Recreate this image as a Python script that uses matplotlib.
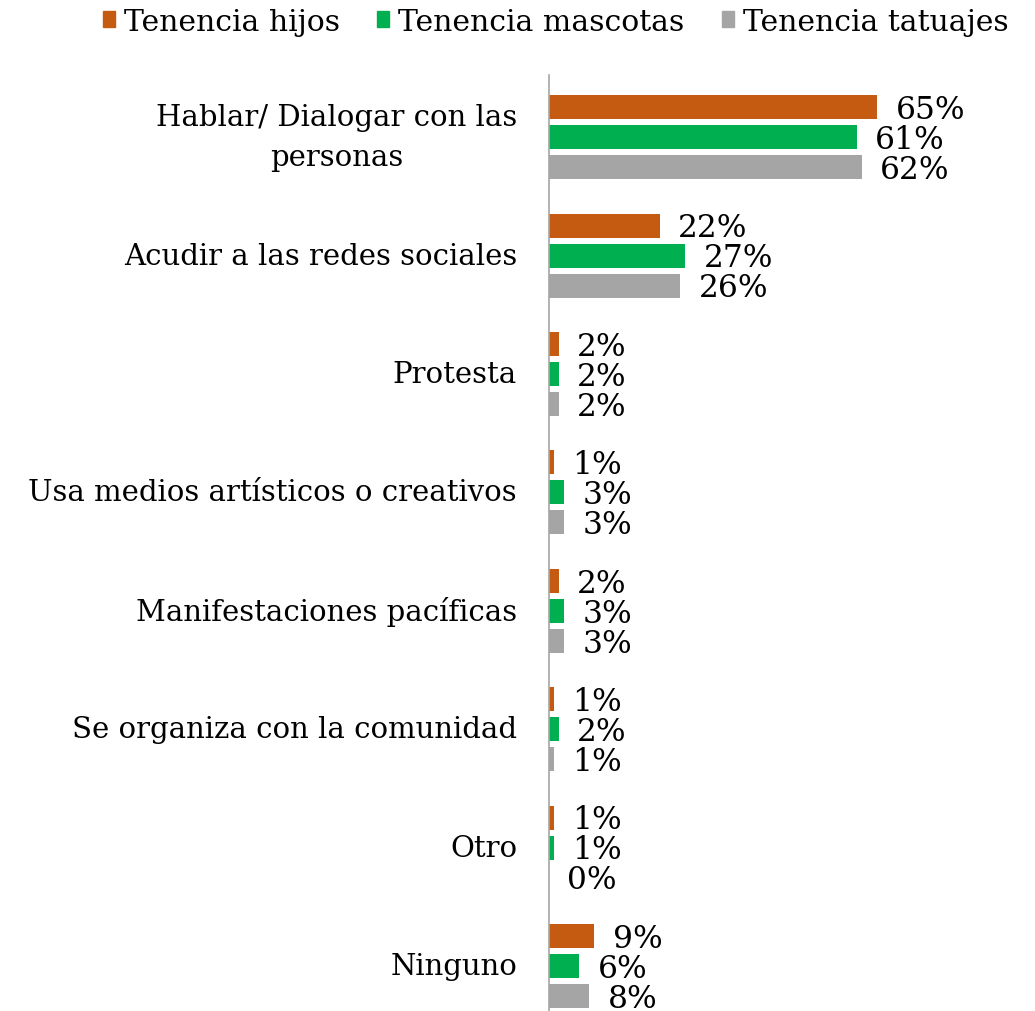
import matplotlib
matplotlib.use("Agg")
import matplotlib.pyplot as plt
from matplotlib.patches import Patch

plt.rcParams['font.family'] = ['DejaVu Serif']

# datos (porcentajes)
categorias = ["Hablar/ Dialogar con las\npersonas", "Acudir a las redes sociales", "Protesta",
              "Usa medios artísticos o creativos", "Manifestaciones pacíficas",
              "Se organiza con la comunidad", "Otro", "Ninguno"]
series = ["Tenencia hijos", "Tenencia mascotas", "Tenencia tatuajes"]
hijos = [65, 22, 2, 1, 2, 1, 1, 9]
mascotas = [61, 27, 2, 3, 3, 2, 1, 6]
tatuajes = [62, 26, 2, 3, 3, 1, 0, 8]
colores = ["#C55A11", "#00B050", "#A5A5A5"]

fig = plt.figure(figsize=(10.35, 10.12), dpi=100)
ax = fig.add_axes([549 / 1035, 0, 1 - 549 / 1035, 1 - 76 / 1012])

esp = 118.4
paso = 30 / esp
alto = 24 / esp
for k, valores in enumerate([hijos, mascotas, tatuajes]):
    ys = [i + (k - 1) * paso for i in range(len(categorias))]
    ax.barh(ys, valores, height=alto, color=colores[k], left=0)
    for y, v in zip(ys, valores):
        ax.text(v + 3.6, y + 0.02, f"{v}%", va='center', ha='left', fontsize=22.5)

# desplazamiento de 3 px hacia abajo del primer grupo
d = 3 / esp
ax.set_xlim(0, 486 / 5.05)
ax.set_ylim(-0.5 - d + 936 / esp, -0.5 - d)
for s in ["top", "right", "bottom"]:
    ax.spines[s].set_visible(False)
ax.spines["left"].set_color("#A6A6A6")
ax.spines["left"].set_linewidth(1.2)
ax.set_xticks([])
ax.set_yticks([])

for i, c in enumerate(categorias):
    ax.text(-32 / 5.05, i, c, ha='right', va='center', multialignment='center',
            fontsize=21, linespacing=1.55)

handles = [Patch(color=c) for c in colores]
fig.legend(handles, series, loc='upper right', bbox_to_anchor=(1.0, 1.018), ncol=3,
           frameon=False, fontsize=21.5, handlelength=0.4, handleheight=0.4,
           handletextpad=0.3, columnspacing=1.25)

fig.savefig("out.png", dpi=100, facecolor="white")
